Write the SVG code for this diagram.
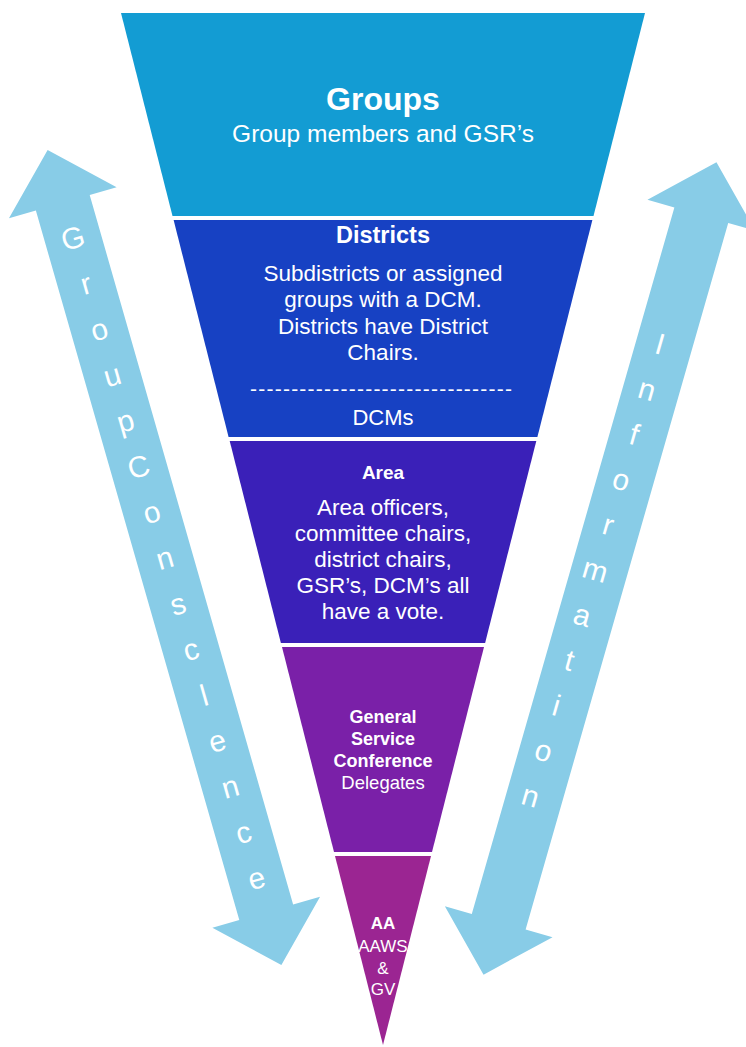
<svg xmlns="http://www.w3.org/2000/svg" width="746" height="1047" viewBox="0 0 746 1047">
  <style>
    .band { stroke: none; }
    .arrow { fill: #88CCE7; stroke: none; }
    .t { fill: #FFFFFF; text-anchor: middle; font-family: "Liberation Sans", Arial, sans-serif; }
    .b { font-weight: bold; }
    .body { font-size: 22.5px; }
    .vert { fill: #FFFFFF; text-anchor: middle; font-family: "Liberation Sans", Arial, sans-serif; font-size: 30px; }
  </style>
  <defs>
    <polygon id="dblArrowL" points="0,-424 56,-369 28,-369 28,369 56,369 0,424 -56,369 -28,369 -28,-369 -56,-369"/>
    <polygon id="dblArrowR" points="0,-422.5 56,-367.5 28,-367.5 28,367.5 56,367.5 0,422.5 -56,367.5 -28,367.5 -28,-367.5 -56,-367.5"/>
  </defs>
  <rect x="0" y="0" width="746" height="1047" fill="#FFFFFF"/>

  <g id="connectors">
    <g id="arrow-group-conscience" transform="translate(164.5,557.5) rotate(-16)">
      <use href="#dblArrowL" class="arrow"/>
      <text class="vert" x="0 0 0 0 0 0 0 0 0 0 0 0 0 0 0" y="-322 -274.4 -226.9 -179.3 -131.7 -84.1 -36.6 11 58.6 106.1 153.7 201.3 248.9 296.4 344">GroupConsclence</text>
    </g>
    <g id="arrow-information" transform="translate(600,568.5) rotate(16)">
      <use href="#dblArrowR" class="arrow"/>
      <text class="vert" x="-4 -4 -4 -4 -4 -4 -4 -4 -4 -4 -4" y="-222 -175 -128 -81 -34 13 60 107 154 201 248">Information</text>
    </g>
  </g>

  <g id="groups">
    <polygon class="band" fill="#139CD3" points="121,13 645,13 593.5,216 172.5,216"/>
    <text class="t b" x="383" y="110" font-size="32">Groups</text>
    <text class="t" x="383" y="142" font-size="24.5">Group members and GSR’s</text>
  </g>

  <g id="districts">
    <polygon class="band" fill="#1741C3" points="173.6,220 592.4,220 537.4,437 228.6,437"/>
    <text class="t b" x="383" y="243" font-size="23.5">Districts</text>
    <text class="t body" x="383" y="281">Subdistricts or assigned</text>
    <text class="t body" x="383" y="307">groups with a DCM.</text>
    <text class="t body" x="383" y="334">Districts have District</text>
    <text class="t body" x="383" y="360">Chairs.</text>
    <text class="t" x="381" y="396" font-size="21" textLength="262" lengthAdjust="spacing">--------------------------------</text>
    <text class="t" x="383" y="425" font-size="22">DCMs</text>
  </g>

  <g id="area">
    <polygon class="band" fill="#3A20B8" points="229.7,441 536.3,441 485.1,643 280.9,643"/>
    <text class="t b" x="383" y="479" font-size="19">Area</text>
    <text class="t body" x="383" y="515">Area officers,</text>
    <text class="t body" x="383" y="541">committee chairs,</text>
    <text class="t body" x="383" y="567">district chairs,</text>
    <text class="t body" x="383" y="593">GSR’s, DCM’s all</text>
    <text class="t body" x="383" y="619">have a vote.</text>
  </g>

  <g id="gsc">
    <polygon class="band" fill="#7A20A8" points="282,647 484,647 432,852 334,852"/>
    <text class="t b" x="383" y="723" font-size="18">General</text>
    <text class="t b" x="383" y="745" font-size="18">Service</text>
    <text class="t b" x="383" y="767" font-size="18">Conference</text>
    <text class="t" x="383" y="789" font-size="18.5">Delegates</text>
  </g>

  <g id="aa">
    <polygon class="band" fill="#9B2592" points="335,856 431,856 383,1045"/>
    <text class="t b" x="383" y="929" font-size="17">AA</text>
    <text class="t" x="383" y="952" font-size="17">AAWS</text>
    <text class="t" x="383" y="974" font-size="17">&amp;</text>
    <text class="t" x="383" y="995" font-size="17">GV</text>
  </g>
</svg>
